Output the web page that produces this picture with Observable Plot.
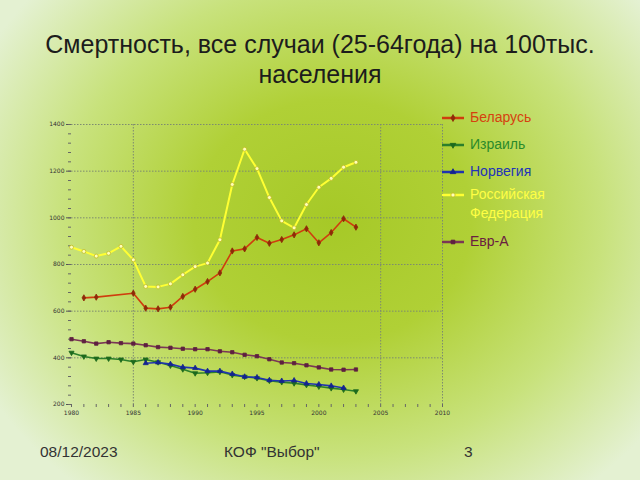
<!DOCTYPE html>
<html><head><meta charset="utf-8">
<script src="https://cdn.jsdelivr.net/npm/d3@7"></script>
<script src="https://cdn.jsdelivr.net/npm/@observablehq/plot@0.6"></script>
<style>
html,body{margin:0;padding:0;}
body{width:640px;height:480px;overflow:hidden;position:relative;font-family:"Liberation Sans",Arial,sans-serif;
background:radial-gradient(ellipse 62% 72% at 52% 46%, #a6c927 0%, #b0d036 35%, #c8e27c 68%, #e4f1d2 100%);}
#title{position:absolute;left:0;top:29px;width:640px;text-align:center;font-size:25px;line-height:30px;color:#1c1c1c;}
#chart{position:absolute;left:0;top:0;}
.foot{position:absolute;top:443px;font-size:15.5px;color:#333;}
#legend{position:absolute;left:440px;top:108px;font-size:14px;}
.li{position:absolute;left:0;white-space:nowrap;}
.li svg{position:absolute;left:0;top:0;}
.li span{position:absolute;left:30px;top:0;line-height:19px;}
</style></head>
<body>
<div id="chart"></div>
<div id="title">Смертность, все случаи (25-64года) на 100тыс.<br>населения</div>
<div id="legend"></div>
<div class="foot" style="left:40px">08/12/2023</div>
<div class="foot" style="left:224px">КОФ "Выбор"</div>
<div class="foot" style="left:464px">3</div>
<script>
const seriesNames = ["Беларусь","Израиль","Норвегия","Российская Федерация","Евр-А"];
const lineColors = ["#cf3d0e","#2b7f2b","#1f33b0","#ffff33","#7a3656"];
const markColors = ["#8e2a08","#1d6a1d","#14248f","#ffffb8","#5e2040"];
const markStroke = ["#8e2a08","#1d6a1d","#14248f","#c2bb22","#5e2040"];
const textColors = ["#d6420f","#2a8a2a","#2233b8","#ffff44","#6a2040"];
const symbols = ["diamond","triangle","triangle","circle","square"];
const rotations = [0,180,0,0,0];

const belarusYears = [1981,1982,1985,1986,1987,1988,1989,1990,1991,1992,1993,1994,1995,1996,1997,1998,1999,2000,2001,2002,2003];
const belarus = [657,660,677,613,610,617,663,694,727,764,858,867,916,891,907,927,953,893,937,996,960];
const israelYears = d3.range(1980,2004);
const israel = [422,406,397,397,393,383,393,381,367,351,334,336,340,326,319,313,302,296,291,284,277,270,264,257];
const norwayYears = d3.range(1986,2003);
const norway = [377,380,373,360,356,343,343,331,319,316,304,301,303,290,286,280,271];
const russiaYears = d3.range(1980,2004);
const russia = [874,856,836,848,878,820,706,704,717,756,791,806,906,1143,1294,1211,1087,987,957,1057,1131,1169,1217,1238];
const evrYears = d3.range(1980,2004);
const evr = [480,471,461,467,463,461,454,446,443,439,437,437,428,424,413,407,394,380,377,368,359,350,349,350];

const yLabels = [200,400,600,800,1000,1200,1400];
const yGrid = [400,600,800,1000,1200,1400];
const yMinor = d3.range(200,1401,40);
const xLabels = [1980,1985,1990,1995,2000,2005,2010];
const xGrid = [1985,2005,2010];
const xMinor = d3.range(1980,2011,1);

const seriesYears = [belarusYears, israelYears, norwayYears, russiaYears, evrYears];
const seriesVals = [belarus, israel, norway, russia, evr];
const rows = [];
seriesNames.forEach((s,i)=>seriesYears[i].forEach((yr,j)=>rows.push({series:s, idx:i, year:yr, value:seriesVals[i][j]})));

const marks = [
  Plot.ruleY(yGrid, {stroke:"#7d8a70", strokeWidth:1, strokeDasharray:"1.5,1.5"}),
  Plot.ruleX(xGrid, {stroke:"#7d8a70", strokeWidth:1, strokeDasharray:"1.5,1.5"}),
  Plot.axisY({ticks:yLabels, tickSize:5, tickPadding:2, fontSize:6, tickFormat:d=>String(d), stroke:"#555", color:"#333", label:null}),
  Plot.axisY({ticks:yMinor, tickSize:3, tickFormat:()=>"", stroke:"#666", label:null}),
  Plot.axisX({ticks:xLabels, tickSize:0, tickPadding:6, fontSize:6, tickFormat:d=>String(d), color:"#333", label:null}),
  Plot.axisX({ticks:xMinor, tickSize:3, tickFormat:()=>"", stroke:"#666", label:null})
];
[4,1,2,3,0].forEach(i=>{
  const data = rows.filter(d=>d.idx===i);
  marks.push(Plot.line(data, {x:"year", y:"value", stroke:lineColors[i], strokeWidth: i===3?2:1.6}));
  marks.push(Plot.dot(data, {x:"year", y:"value", symbol:symbols[i], rotate:rotations[i], r: i===3?2:1.9, fill:markColors[i], stroke:markStroke[i], strokeWidth:0.8}));
});

const chart = Plot.plot({
  width:640, height:480,
  marginLeft:71, marginRight:198, marginTop:124, marginBottom:76,
  style:{background:"transparent", fontFamily:"DejaVu Sans, sans-serif"},
  x:{domain:[1980,2010]},
  y:{domain:[200,1400]},
  marks
});
document.getElementById("chart").appendChild(chart);

const legendTops = [0,27,54,77,124];
const leg = document.getElementById("legend");
seriesNames.forEach((s,i)=>{
  const div = document.createElement("div");
  div.className="li";
  div.style.top = legendTops[i]+"px";
  const svg = d3.create("svg").attr("width",26).attr("height",20);
  svg.append("line").attr("x1",2).attr("x2",24).attr("y1",10).attr("y2",10).attr("stroke",lineColors[i]).attr("stroke-width",2.5);
  svg.append("path").attr("d", d3.symbol(i===0?d3.symbolDiamond:i===4?d3.symbolSquare:i===3?d3.symbolCircle:d3.symbolTriangle, 14)())
    .attr("transform",`translate(13,10) rotate(${rotations[i]})`).attr("fill",markColors[i]).attr("stroke",markStroke[i]).attr("stroke-width",0.8);
  div.appendChild(svg.node());
  const span = document.createElement("span");
  span.style.color = textColors[i];
  span.innerHTML = i===3 ? "Российская<br>Федерация" : s;
  div.appendChild(span);
  leg.appendChild(div);
});
</script>
</body></html>
